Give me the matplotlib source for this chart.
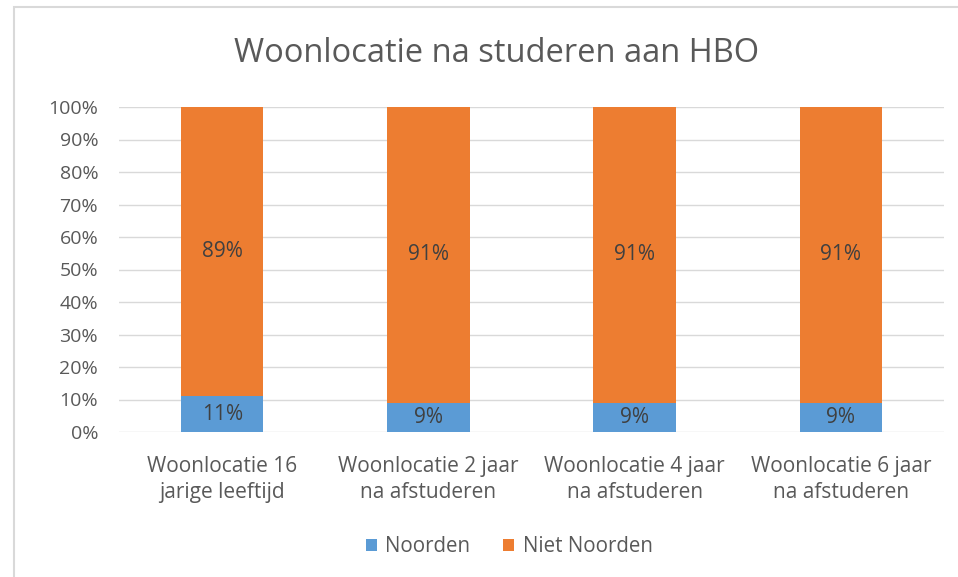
import numpy as np
import matplotlib
matplotlib.use("Agg")
import matplotlib.pyplot as plt
from matplotlib.patches import Rectangle
from matplotlib.ticker import PercentFormatter

# data
categories = ["Woonlocatie 16\njarige leeftijd", "Woonlocatie 2 jaar\nna afstuderen",
              "Woonlocatie 4 jaar\nna afstuderen", "Woonlocatie 6 jaar\nna afstuderen"]
noorden = [11, 9, 9, 9]
niet_noorden = [89, 91, 91, 91]

plt.rcParams['font.family'] = ['Open Sans', 'DejaVu Sans']

blue = '#5B9BD5'
orange = '#ED7D31'
grey_txt = '#595959'

fig = plt.figure(figsize=(9.58, 5.77), dpi=100)
# chart frame
fig.patches.append(Rectangle((14/958, -0.1), 1.2, 1 - 7/577 + 0.1, transform=fig.transFigure,
                             fill=False, edgecolor='#D9D9D9', linewidth=1.5))

ax = fig.add_axes([119/958, 1 - 432/577, 825/958, 325/577])
x = np.arange(len(categories))
b1 = ax.bar(x, noorden, width=0.4, color=blue, label='Noorden', zorder=3)
b2 = ax.bar(x, niet_noorden, width=0.4, bottom=noorden, color=orange, label='Niet Noorden', zorder=3)

for bars, vals, bots in [(b1, noorden, [0]*4), (b2, niet_noorden, noorden)]:
    for r, v, b in zip(bars, vals, bots):
        ax.text(r.get_x() + r.get_width()/2, b + v/2, f"{v}%", ha='center', va='center',
                fontsize=15, color='#404040', zorder=4)

ax.set_xlim(-0.5, 3.5)
ax.set_ylim(0, 100)
ax.set_yticks(np.arange(0, 101, 10))
ax.yaxis.set_major_formatter(PercentFormatter(decimals=0))
ax.set_xticks(x)
ax.set_xticklabels(categories, linespacing=1.35)
ax.tick_params(axis='both', length=0, labelsize=14, labelcolor=grey_txt)
ax.tick_params(axis='x', labelsize=15, pad=17)
ax.tick_params(axis='y', pad=15)
ax.grid(axis='y', color='#D9D9D9', linewidth=1, zorder=0)
for s in ax.spines.values():
    s.set_visible(False)

fig.text(497/958, 1 - 54/577, "Woonlocatie na studeren aan HBO", ha='center', va='center',
         fontsize=23.5, color=grey_txt)

fig.legend(handles=[b1, b2], loc='center', bbox_to_anchor=(509/958, 1 - 547/577), ncol=2,
           frameon=False, fontsize=14.8, labelcolor=grey_txt, handlelength=0.55, handleheight=0.55,
           handletextpad=0.4, columnspacing=1.6)

fig.savefig("out.png", dpi=100)
